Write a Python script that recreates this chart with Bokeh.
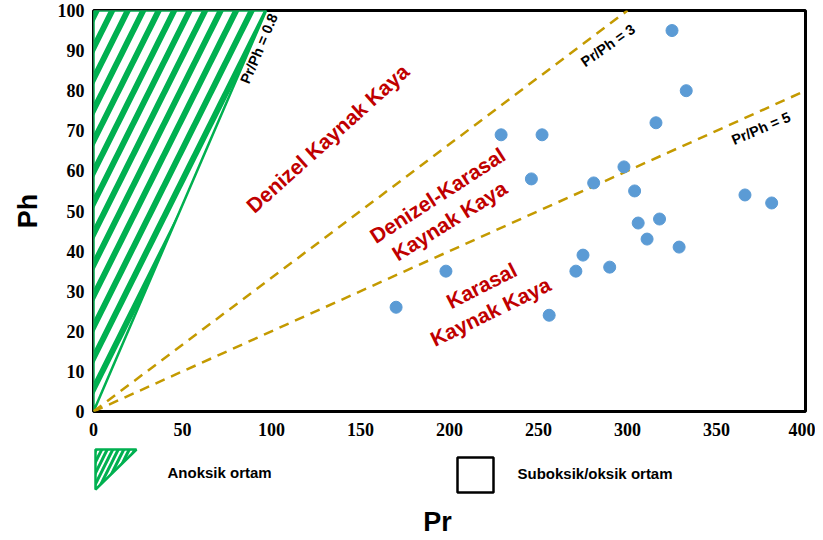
from bokeh.plotting import figure
from bokeh.layouts import column
from bokeh.models import Range1d, FixedTicker
from bokeh.core.properties import value
from bokeh.embed import file_html
from bokeh.resources import INLINE

# ---------------- data ----------------
pr = [170, 198, 229, 252, 246, 256, 271, 275, 281, 290, 298,
      304, 306, 311, 316, 318, 325, 329, 333, 366, 381]
ph = [26, 35, 69, 69, 58, 24, 35, 39, 57, 36, 61,
      55, 47, 43, 72, 48, 95, 41, 80, 54, 52]

x_ticks = [0, 50, 100, 150, 200, 250, 300, 350, 400]
y_ticks = [0, 10, 20, 30, 40, 50, 60, 70, 80, 90, 100]

# anoxic field (hatched triangle)
anoxic_x = [0, 0, 97]
anoxic_y = [0, 100, 100]

# dashed Pr/Ph ratio lines
ratio_vals = [3, 5]
ratio_end_pr = [300, 400]

# line labels
line_labels = ["Pr/Ph = 0.8", "Pr/Ph = 3", "Pr/Ph = 5"]
line_label_x = [93, 289, 375]
line_label_y = [90.5, 91.3, 70.6]
line_label_angle = [67, 35, 23]

# field labels
field_labels = ["Denizel Kaynak Kaya", "Denizel-Karasal", "Kaynak Kaya",
                "Karasal", "Kaynak Kaya"]
field_x = [131.5, 193.3, 200, 218, 223]
field_y = [68.1, 53.9, 47.6, 31.4, 24.9]
field_angle = [42, 33, 32, 27, 26]

GREEN = "#00B050"
GOLD = "#C49A00"
BLUE = "#5B9BD5"
RED = "#C00000"

# ---------------- main plot ----------------
p = figure(width=815, height=447, x_range=Range1d(0, 400), y_range=Range1d(0, 100),
           output_backend="svg", toolbar_location=None,
           min_border_left=93, min_border_right=10, min_border_top=10,
           min_border_bottom=36)
p.grid.visible = False
p.outline_line_color = "black"
p.outline_line_width = 3
p.background_fill_color = "white"

for ax in (p.xaxis, p.yaxis):
    ax.axis_line_color = None
    ax.major_tick_line_color = None
    ax.minor_tick_line_color = None
    ax.major_tick_out = 0
    ax.major_tick_in = 0
    ax.major_label_text_font = "Liberation Serif"
    ax.major_label_text_font_style = "bold"
    ax.major_label_text_font_size = "18px"
    ax.major_label_text_color = "black"

p.xaxis.ticker = FixedTicker(ticks=x_ticks)
p.yaxis.ticker = FixedTicker(ticks=y_ticks)
p.xaxis.major_label_standoff = 11
p.yaxis.major_label_standoff = 9
p.yaxis.axis_label = "Ph"
p.yaxis.axis_label_text_font = "Liberation Sans"
p.yaxis.axis_label_text_font_style = "bold"
p.yaxis.axis_label_text_font_size = "27px"
p.yaxis.axis_label_standoff = 12
p.yaxis.axis_label_text_color = "black"

p.patch(anoxic_x, anoxic_y, fill_color="white", line_color=GREEN, line_width=2.5,
        hatch_pattern="/", hatch_color=GREEN, hatch_weight=6, hatch_scale=31)

for r, xe in zip(ratio_vals, ratio_end_pr):
    p.line([0, xe], [0, xe / r], line_color=GOLD, line_width=2.5, line_dash="10 7")

p.scatter(pr, ph, size=12, color=BLUE, line_color=BLUE)

p.text(line_label_x, line_label_y, text=line_labels, angle=line_label_angle,
       angle_units="deg", text_align="center", text_baseline="middle",
       text_font=value("Liberation Sans"), text_font_style="bold",
       text_font_size="14.5px", text_color="black")

p.text(field_x, field_y, text=field_labels, angle=field_angle, angle_units="deg",
       text_align="center", text_baseline="middle",
       text_font=value("Liberation Sans"), text_font_style="bold",
       text_font_size="21px", text_color=RED)

# ---------------- legend / x title strip ----------------
# The column layout aligns this strip's frame with the main frame (page x 93..805),
# so the x range is expressed in page pixels over that span.
L_H = 89
q = figure(width=815, height=L_H, x_range=Range1d(93, 805), y_range=Range1d(L_H, 0),
           output_backend="svg", toolbar_location=None,
           min_border_left=93, min_border_right=10,
           min_border_top=0, min_border_bottom=0)
q.axis.visible = False
q.grid.visible = False
q.outline_line_color = None

leg_tri_x = [95, 136, 95]
leg_tri_y = [2, 2, 42]
q.patch(leg_tri_x, leg_tri_y, fill_color="white", line_color=GREEN, line_width=2.5,
        hatch_pattern="/", hatch_color=GREEN, hatch_weight=3, hatch_scale=11)
q.rect([475], [27.5], width=36, height=35, fill_color=None, line_color="black",
       line_width=2.5)
q.text([167, 517], [25, 26], text=["Anoksik ortam", "Suboksik/oksik ortam"],
       text_align="left", text_baseline="middle",
       text_font=value("Liberation Sans"), text_font_style="bold",
       text_font_size="15px", text_color="black")
q.text([437], [74], text=["Pr"], text_align="center", text_baseline="middle",
       text_font=value("Liberation Sans"), text_font_style="bold",
       text_font_size="27px", text_color="black")

layout = column(p, q, spacing=0)
open("out.html", "w").write(file_html(layout, INLINE))
